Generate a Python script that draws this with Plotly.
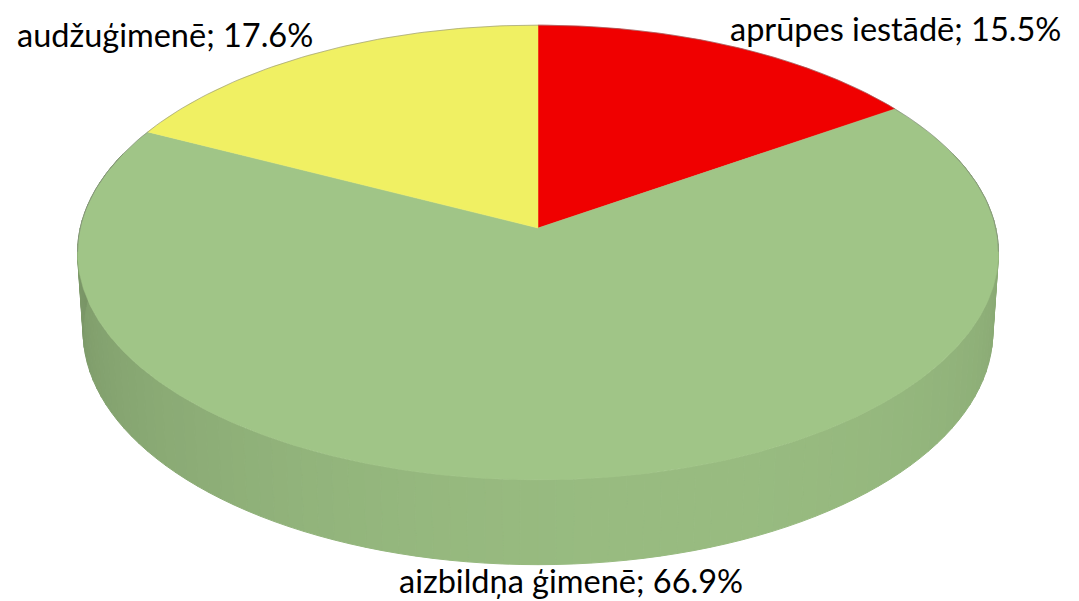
import numpy as np
import plotly.graph_objects as go

# ---- data ----
categories = ["aprūpes iestādē", "aizbildņa ģimenē", "audžuģimenē"]
values = [15.5, 66.9, 17.6]
slice_colors = [(240, 0, 0), (160, 197, 135), (240, 240, 99)]

# ---- 3D pie projection parameters ----
W, H = 1079, 601
CX, CY = 538.0, 228.0
F = 3702.0
D = 8.087
PHI = np.radians(29.4)
DEPTH = 0.2
S, C = np.sin(PHI), np.cos(PHI)


def project(theta_deg, y=0.0, r=1.0):
    t = np.radians(np.asarray(theta_deg, dtype=float))
    u = r * np.sin(t)
    w = r * np.cos(t)
    yc = w * S + y * C
    zc = D + w * C - y * S
    return CX + F * u / zc, CY - F * yc / zc


def rgb(c, k=1.0):
    return "rgb(%d,%d,%d)" % tuple(int(max(0, min(255, round(v * k)))) for v in c)


total = float(sum(values))
bounds = np.concatenate([[0.0], np.cumsum(values) / total * 360.0])

fig = go.Figure()

# ---- side wall (drawn first, back parts hidden by top face) ----
STEP = 2.0
for i in range(len(values)):
    a0, a1 = bounds[i], bounds[i + 1]
    lo, hi = max(a0, 70.0), min(a1, 290.0)
    if hi <= lo:
        continue
    n = int(np.ceil((hi - lo) / STEP))
    edges = np.linspace(lo, hi, n + 1)
    for j in range(n):
        t0, t1 = edges[j], edges[j + 1]
        ts = np.linspace(t0, t1, 4)
        xt, yt = project(ts, 0.0)
        xb, yb = project(ts[::-1], -DEPTH)
        xs = np.concatenate([xt, xb, xt[:1]])
        ys = np.concatenate([yt, yb, yt[:1]])
        mid = 0.5 * (t0 + t1)
        k = 0.80 + 0.15 * np.cos(np.radians(mid - 165.0))
        col = rgb(slice_colors[i], k)
        fig.add_trace(go.Scatter(x=xs, y=ys, mode="lines", fill="toself",
                                 fillcolor=col, line=dict(color=col, width=1),
                                 hoverinfo="skip", showlegend=False))

# ---- top face slices ----
for i in range(len(values)):
    a0, a1 = bounds[i], bounds[i + 1]
    ts = np.linspace(a0, a1, max(8, int((a1 - a0) / 0.5)))
    xa, ya = project(ts, 0.0)
    xs = np.concatenate([[CX], xa, [CX]])
    ys = np.concatenate([[CY], ya, [CY]])
    col = rgb(slice_colors[i])
    fig.add_trace(go.Scatter(x=xs, y=ys, mode="lines", fill="toself",
                             fillcolor=col, line=dict(color=col, width=0.5),
                             hoverinfo="skip", showlegend=False))

# faint rim outline on the back edge
ts = np.linspace(-96, 96, 200)
xr, yr = project(ts, 0.0)
fig.add_trace(go.Scatter(x=xr, y=yr, mode="lines",
                         line=dict(color="rgba(120,120,120,0.5)", width=1),
                         hoverinfo="skip", showlegend=False))

# ---- labels ----
labels = [f"{c}; {v:.1f}%" for c, v in zip(categories, values)]
label_pos = [
    dict(x=1063, y=28, xanchor="right"),
    dict(x=571, y=580, xanchor="center"),
    dict(x=15, y=34, xanchor="left"),
]
for txt, p in zip(labels, label_pos):
    fig.add_annotation(x=p["x"], y=p["y"], xref="x", yref="y", text=txt,
                       showarrow=False, xanchor=p["xanchor"], yanchor="middle",
                       font=dict(family="Lato", size=32.5, color="#000000"))

fig.update_xaxes(range=[0, W], visible=False, fixedrange=True)
fig.update_yaxes(range=[H, 0], visible=False, fixedrange=True)
fig.update_layout(width=W, height=H, margin=dict(l=0, r=0, t=0, b=0),
                  paper_bgcolor="white", plot_bgcolor="white", showlegend=False)

fig.write_html("out.html", config={"displayModeBar": False},
               post_script="document.body.style.margin='0';document.body.style.overflow='hidden';")
